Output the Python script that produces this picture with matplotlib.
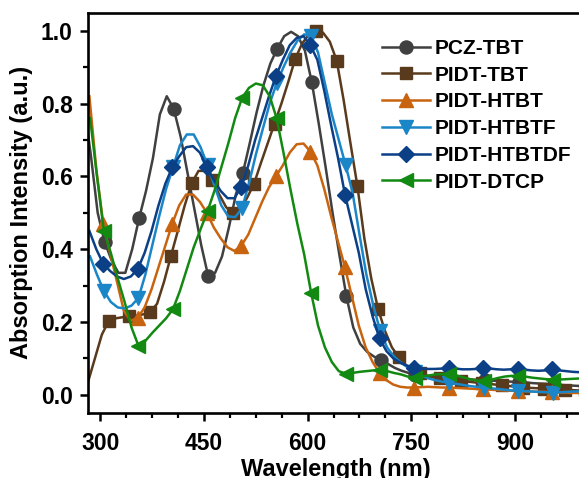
import numpy as np
import matplotlib
matplotlib.use('Agg')
import matplotlib.pyplot as plt
from matplotlib.ticker import MultipleLocator

plt.rcParams['font.family'] = ['Liberation Sans', 'DejaVu Sans']
plt.rcParams['font.weight'] = 'bold'

# absorption spectra, 10 nm steps from each start wavelength
names = ['PCZ-TBT', 'PIDT-TBT', 'PIDT-HTBT', 'PIDT-HTBTF', 'PIDT-HTBTDF', 'PIDT-DTCP']

pcz_tbt_start = 276
pcz_tbt = [0.80, 0.66, 0.50, 0.42, 0.37, 0.335, 0.335, 0.40, 0.485, 0.56,
           0.65, 0.77, 0.82, 0.786, 0.71, 0.61, 0.51, 0.41, 0.326, 0.335,
           0.38, 0.46, 0.55, 0.608, 0.69, 0.775, 0.85, 0.91, 0.951, 0.985,
           0.997, 0.985, 0.945, 0.858, 0.745, 0.625, 0.50, 0.383, 0.271, 0.185,
           0.14, 0.118, 0.105, 0.096, 0.085, 0.074, 0.066, 0.06, 0.055, 0.052,
           0.05, 0.048, 0.046, 0.045, 0.044, 0.043, 0.042, 0.041, 0.04, 0.039,
           0.038, 0.037, 0.036, 0.035, 0.034, 0.032, 0.031, 0.03, 0.028, 0.027,
           0.026, 0.025, 0.024, 0.023]

pidt_tbt_start = 282
pidt_tbt = [0.035, 0.10, 0.165, 0.203, 0.21, 0.213, 0.216, 0.218, 0.221, 0.227,
            0.25, 0.31, 0.381, 0.45, 0.52, 0.581, 0.615, 0.615, 0.59, 0.55,
            0.515, 0.499, 0.51, 0.54, 0.578, 0.635, 0.69, 0.745, 0.80, 0.86,
            0.923, 0.965, 0.99, 1.0, 0.995, 0.97, 0.918, 0.81, 0.69, 0.573,
            0.43, 0.32, 0.235, 0.175, 0.13, 0.103, 0.082, 0.068, 0.06, 0.053,
            0.048, 0.045, 0.042, 0.04, 0.038, 0.036, 0.034, 0.032, 0.03, 0.028,
            0.026, 0.024, 0.022, 0.02, 0.019, 0.018, 0.017, 0.016, 0.015, 0.014,
            0.013, 0.012, 0.012]

pidt_htbt_start = 284
pidt_htbt = [0.82, 0.62, 0.47, 0.39, 0.31, 0.23, 0.203, 0.212, 0.24, 0.29,
             0.35, 0.41, 0.47, 0.52, 0.55, 0.55, 0.53, 0.50, 0.46, 0.43,
             0.405, 0.395, 0.41, 0.44, 0.485, 0.53, 0.57, 0.60, 0.63, 0.665,
             0.688, 0.69, 0.668, 0.63, 0.565, 0.49, 0.42, 0.35, 0.27, 0.19,
             0.13, 0.09, 0.06, 0.04, 0.028, 0.022, 0.02, 0.02, 0.021, 0.022,
             0.021, 0.02, 0.02, 0.019, 0.018, 0.017, 0.016, 0.015, 0.014, 0.013,
             0.012, 0.011, 0.011, 0.01, 0.009, 0.008, 0.008, 0.007, 0.006, 0.006,
             0.005, 0.005, 0.005]

pidt_htbtf_start = 285
pidt_htbtf = [0.38, 0.33, 0.285, 0.255, 0.24, 0.237, 0.245, 0.266, 0.33, 0.41,
              0.49, 0.565, 0.625, 0.685, 0.715, 0.715, 0.68, 0.63, 0.575, 0.52,
              0.49, 0.488, 0.512, 0.58, 0.66, 0.73, 0.80, 0.855, 0.90, 0.94,
              0.972, 0.99, 0.985, 0.94, 0.855, 0.77, 0.70, 0.63, 0.555, 0.44,
              0.33, 0.245, 0.175, 0.13, 0.105, 0.088, 0.075, 0.062, 0.052, 0.045,
              0.04, 0.036, 0.033, 0.03, 0.027, 0.024, 0.022, 0.02, 0.018, 0.016,
              0.014, 0.012, 0.011, 0.01, 0.009, 0.008, 0.007, 0.006, 0.007, 0.008,
              0.009, 0.01, 0.01]

pidt_htbtdf_start = 284
pidt_htbtdf = [0.45, 0.40, 0.36, 0.34, 0.325, 0.318, 0.325, 0.345, 0.39, 0.45,
               0.52, 0.58, 0.625, 0.655, 0.68, 0.683, 0.665, 0.625, 0.59, 0.56,
               0.54, 0.54, 0.572, 0.63, 0.70, 0.76, 0.82, 0.875, 0.92, 0.96,
               0.98, 0.985, 0.96, 0.92, 0.835, 0.74, 0.65, 0.55, 0.47, 0.39,
               0.29, 0.215, 0.155, 0.12, 0.10, 0.088, 0.08, 0.074, 0.072, 0.071,
               0.071, 0.072, 0.074, 0.072, 0.07, 0.07, 0.071, 0.074, 0.072, 0.07,
               0.069, 0.07, 0.071, 0.069, 0.067, 0.066, 0.067, 0.07, 0.067, 0.065,
               0.063, 0.062, 0.062]

pidt_dtcp_start = 285
pidt_dtcp = [0.76, 0.60, 0.45, 0.39, 0.32, 0.255, 0.185, 0.135, 0.148, 0.17,
             0.19, 0.21, 0.235, 0.285, 0.345, 0.405, 0.455, 0.504, 0.56, 0.625,
             0.69, 0.76, 0.815, 0.843, 0.855, 0.85, 0.82, 0.76, 0.665, 0.565,
             0.47, 0.385, 0.28, 0.19, 0.13, 0.09, 0.065, 0.058, 0.06, 0.063,
             0.065, 0.067, 0.068, 0.065, 0.06, 0.056, 0.05, 0.047, 0.05, 0.053,
             0.056, 0.057, 0.057, 0.053, 0.048, 0.043, 0.039, 0.038, 0.041, 0.046,
             0.05, 0.052, 0.052, 0.05, 0.047, 0.045, 0.043, 0.042, 0.042, 0.043,
             0.044, 0.045, 0.045]

starts = [pcz_tbt_start, pidt_tbt_start, pidt_htbt_start,
          pidt_htbtf_start, pidt_htbtdf_start, pidt_dtcp_start]
spectra = [pcz_tbt, pidt_tbt, pidt_htbt, pidt_htbtf, pidt_htbtdf, pidt_dtcp]

colors = ['#404040', '#5a3a1c', '#c8640f', '#1a86c8', '#0b3f86', '#128a12']
markers = ['o', 's', '^', 'v', 'D', '<']
msizes = [9.4, 8.6, 10.5, 10.5, 8.0, 10.5]
# first marker index and marker spacing (in points)
mark_first = [3, 3, 2, 2, 2, 2]
mark_step = [5, 3, 5, 5, 5, 5]

fig = plt.figure(figsize=(5.79, 4.78), dpi=100)
ax = fig.add_axes([88 / 579, 1 - 413 / 478, 496 / 579, 400.5 / 478])

for name, st, vals, c, m, ms, k0, dk in zip(names, starts, spectra, colors,
                                            markers, msizes, mark_first, mark_step):
    wl = st + 10 * np.arange(len(vals))
    ax.plot(wl, vals, color=c, lw=1.8, marker=m, ms=ms, mec=c, mfc=c,
            markevery=slice(k0, None, dk), label=name)

ax.set_xlim(282, 1000)
ax.set_ylim(-0.05, 1.05)
ax.xaxis.set_major_locator(MultipleLocator(150))
ax.xaxis.set_minor_locator(MultipleLocator(37.5))
ax.yaxis.set_major_locator(MultipleLocator(0.2))
ax.yaxis.set_minor_locator(MultipleLocator(0.1))
ax.yaxis.set_major_formatter(matplotlib.ticker.FormatStrFormatter('%.1f'))

for s in ax.spines.values():
    s.set_linewidth(1.9)
ax.tick_params(which='major', direction='out', length=6, width=1.8,
               labelsize=16.5)
ax.tick_params(axis='x', which='major', pad=8)
ax.tick_params(axis='y', which='major', pad=5)
ax.tick_params(which='minor', direction='out', length=3.5, width=1.6)
for lab in ax.get_xticklabels() + ax.get_yticklabels():
    lab.set_fontweight('bold')

ax.set_xlabel('Wavelength (nm)', fontsize=17, fontweight='bold', labelpad=1.5)
ax.set_ylabel('Absorption Intensity (a.u.)', fontsize=17, fontweight='bold',
              labelpad=6)

leg = ax.legend(loc='upper left', bbox_to_anchor=(382 / 579, 1 - 39 / 478),
                bbox_transform=fig.transFigure, frameon=False,
                prop={'size': 15, 'weight': 'bold'}, handlelength=2.3,
                handletextpad=0.25, labelspacing=0.37, borderpad=0,
                borderaxespad=0)

plt.savefig('out.png', dpi=100)
